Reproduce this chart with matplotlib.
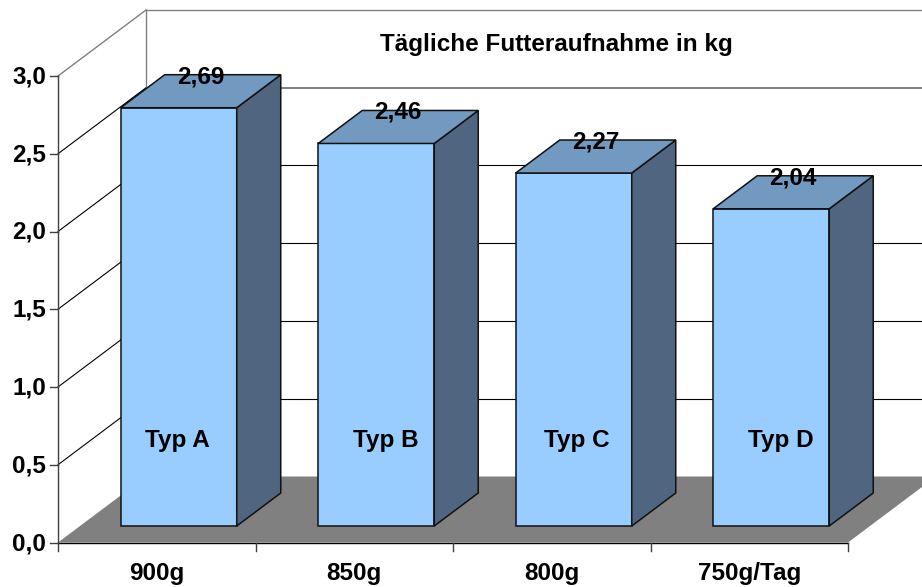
import matplotlib
matplotlib.use("Agg")
import matplotlib.pyplot as plt
from matplotlib.patches import Polygon

categories = ["900g", "850g", "800g", "750g/Tag"]
values = [2.69, 2.46, 2.27, 2.04]
value_labels = ["2,69", "2,46", "2,27", "2,04"]
series_labels = ["Typ A", "Typ B", "Typ C", "Typ D"]
y_ticks = [0.0, 0.5, 1.0, 1.5, 2.0, 2.5, 3.0]
y_tick_labels = ["0,0", "0,5", "1,0", "1,5", "2,0", "2,5", "3,0"]
title = "Tägliche Futteraufnahme in kg"

W, H = 922, 587
X0, Y0 = 58.0, 542.5      # pixel position of the origin
CAT_W = 197.5             # pixels per category
UNIT = 155.5              # pixels per value unit
plt.rcParams["font.family"] = ["Liberation Sans", "DejaVu Sans"]

fig = plt.figure(figsize=(W / 100, H / 100), dpi=100)
ax = fig.add_axes([0, 0, 1, 1])
ax.set_xlim(-X0 / CAT_W, (W - X0) / CAT_W)
ax.set_ylim((Y0 - H) / UNIT, Y0 / UNIT)
ax.axis("off")

# oblique depth in data units
DX, DY = 88 / CAT_W, 66 / UNIT
BAR_W = 116 / CAT_W
FS = 17.5
GRAY = "#808080"
n = len(categories)

def d(x, y, f):
    return (x + DX * f, y + DY * f)

# floor
ax.add_patch(Polygon([(0, 0), (n, 0), d(n, 0, 1), d(0, 0, 1)], fc=GRAY, ec="none", zorder=1))
ax.plot([0, n], [0, 0], color="black", lw=1.0, zorder=2)

# walls and gridlines
for t in y_ticks:
    top = t == y_ticks[-1]
    c = GRAY if top else "black"
    lw = 1.0 if top else 0.8
    if t > 0:
        ax.plot(*zip((0, t), d(0, t, 1)), color=c, lw=lw, zorder=1.5)
        back_c = "#6A6A6A" if t == y_ticks[-2] else c
        back_lw = 1.2 if t == y_ticks[-2] else lw
        ax.plot(*zip(d(0, t, 1), d(n, t, 1)), color=back_c, lw=back_lw, zorder=1.5)
ax.plot(*zip(d(0, 0, 1), d(0, y_ticks[-1], 1)), color=GRAY, lw=1.0, zorder=1.5)

# axes
ax.plot([0, 0], [0, y_ticks[-1]], color="#404040", lw=1.0, zorder=2)
tick_x = 8 / CAT_W
tick_y = 8 / UNIT
for t, lab in zip(y_ticks, y_tick_labels):
    ax.plot([-tick_x, 0], [t, t], color="#404040", lw=1.0, zorder=2)
    ax.text(-12 / CAT_W, t - 1 / UNIT, lab, ha="right", va="center", fontsize=FS, fontweight="bold", zorder=6)
for i in range(n + 1):
    ax.plot([i, i], [0, -tick_y], color="#404040", lw=1.0, zorder=2)

# bars
for i, (v, vl, sl, cat) in enumerate(zip(values, value_labels, series_labels, categories)):
    ax.text(i + 0.5, -31 / UNIT, cat, ha="center", va="center", fontsize=FS, fontweight="bold", zorder=6)
    xl, xr = i + 0.5 + DX * 0.25 - BAR_W / 2, i + 0.5 + DX * 0.25 + BAR_W / 2
    off = 0.25
    f1 = (xl, DY * off), (xr, DY * off), (xr, DY * off + v), (xl, DY * off + v)
    side = [f1[1], d(*f1[1], 0.5), d(*f1[2], 0.5), f1[2]]
    top = [f1[3], f1[2], d(*f1[2], 0.5), d(*f1[3], 0.5)]
    ec = "#111111"
    ax.add_patch(Polygon(f1, fc="#99CCFF", ec=ec, lw=1.1, zorder=3, joinstyle="miter"))
    ax.add_patch(Polygon(side, fc="#4F6580", ec=ec, lw=1.1, zorder=3, joinstyle="miter"))
    ax.add_patch(Polygon(top, fc="#7299BF", ec=ec, lw=1.1, zorder=3, joinstyle="miter"))
    ax.text((xl + xr) / 2 + 22 / CAT_W, DY * off + v + DY * 0.5 - 2 / UNIT, vl,
            ha="center", va="center", fontsize=FS, fontweight="bold", zorder=6)

# series names and title
label_x = [177, 386, 577, 781]
for lx, sl in zip(label_x, series_labels):
    ax.text((lx - X0) / CAT_W, (Y0 - 441) / UNIT, sl, ha="center", va="center",
            fontsize=FS, fontweight="bold", zorder=6)
ax.text((556 - X0) / CAT_W, (Y0 - 45) / UNIT, title, ha="center", va="center",
        fontsize=FS, fontweight="bold", zorder=6)

fig.savefig("out.png", dpi=100, facecolor="white")
